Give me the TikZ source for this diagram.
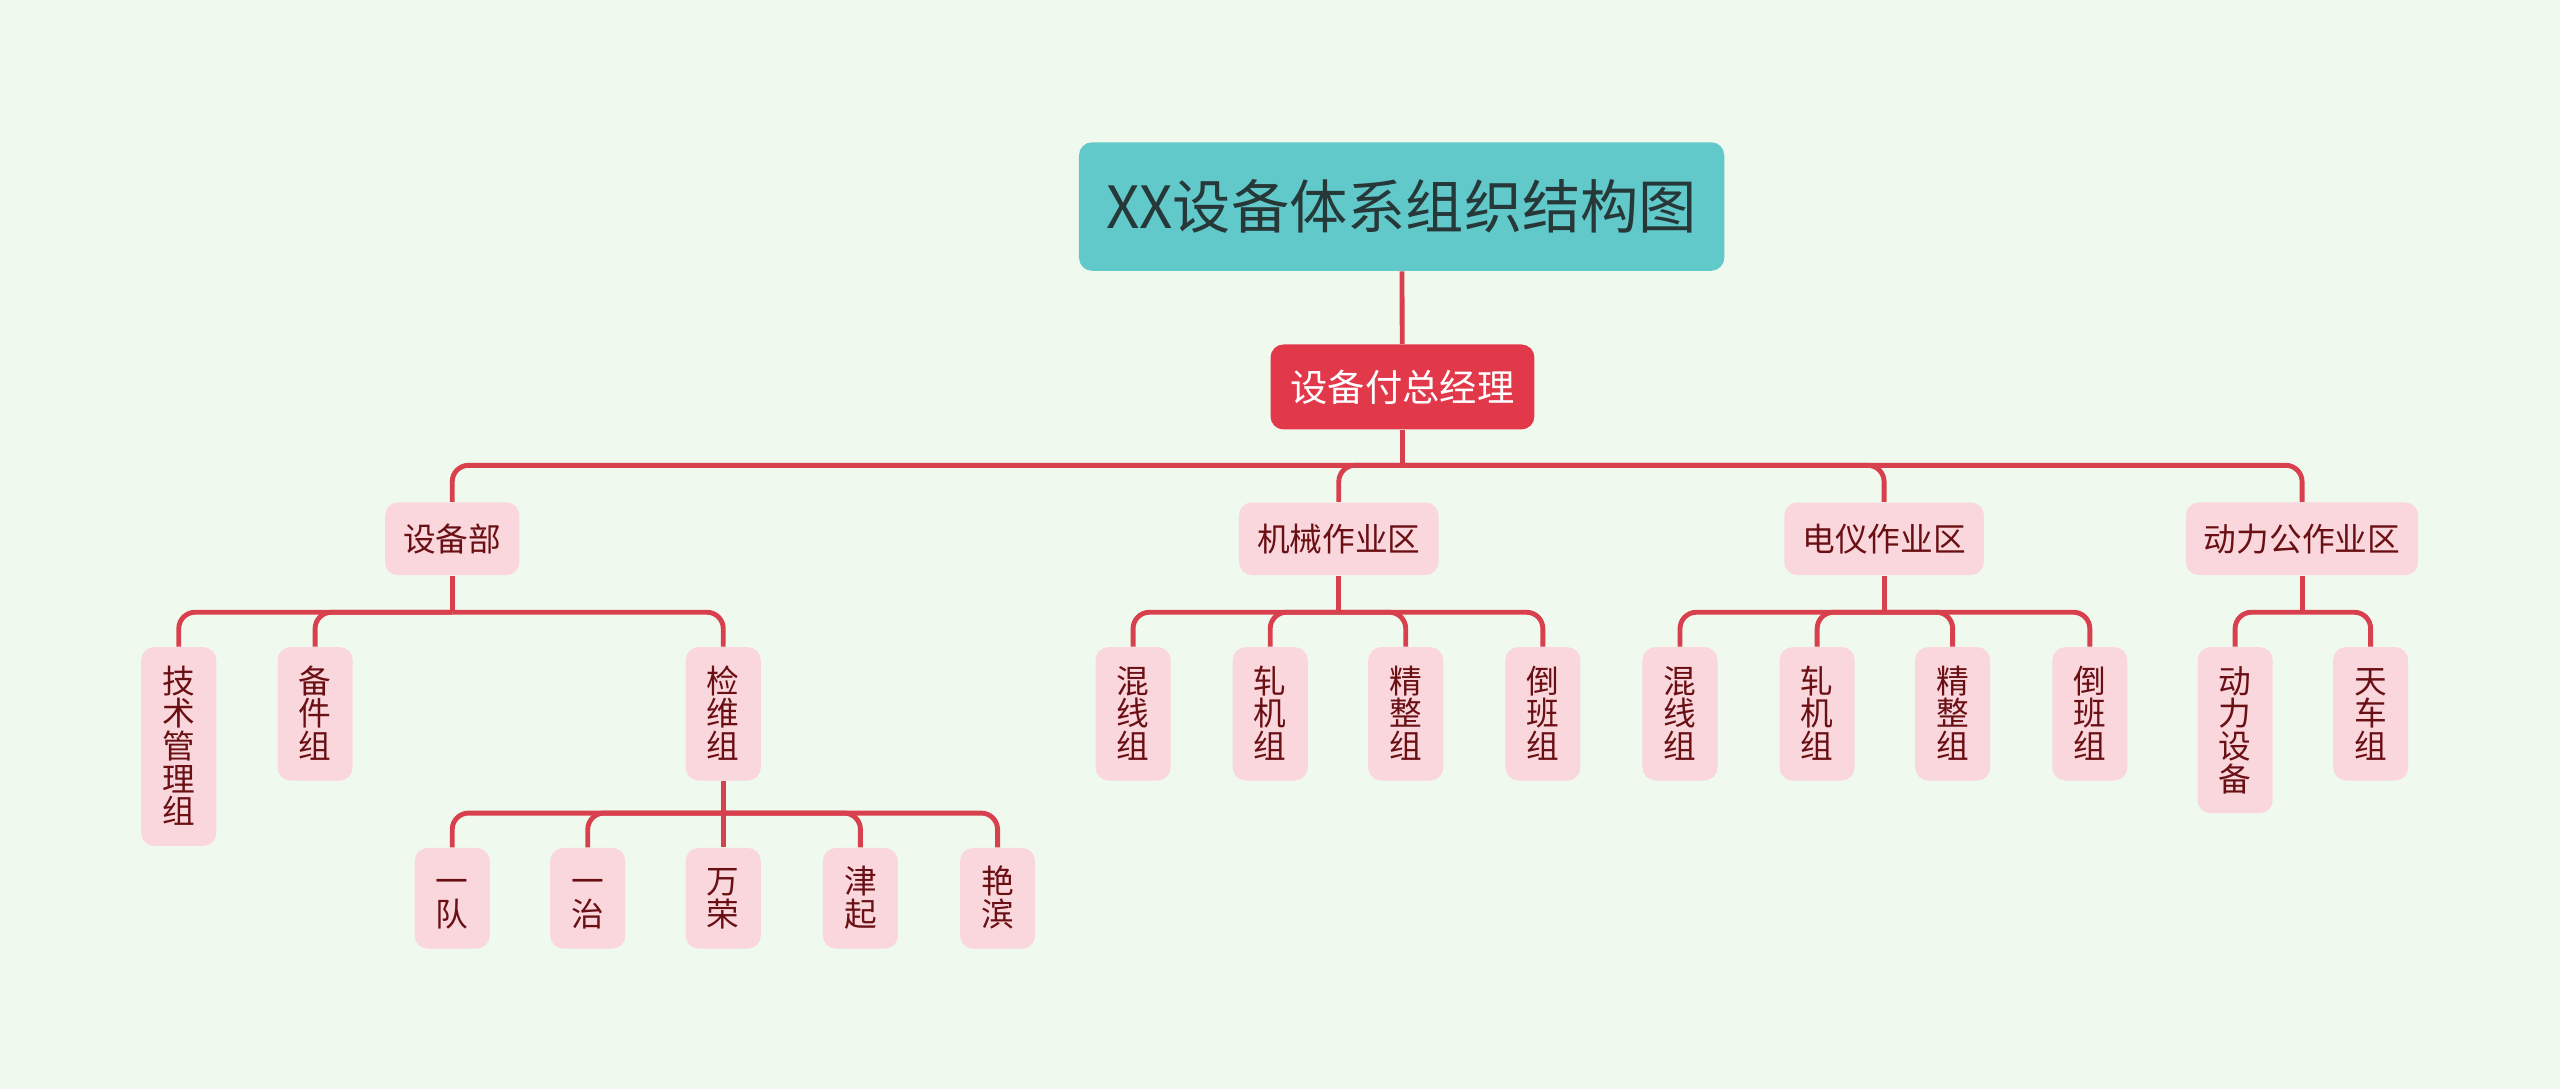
\documentclass[tikz,border=0pt]{standalone}
\usepackage{fontspec}
\setmainfont{Noto Sans CJK SC}
\definecolor{bgmint}{HTML}{F0F9EE}
\definecolor{titlecyan}{HTML}{62C9CB}
\definecolor{titleink}{HTML}{263838}
\definecolor{bossred}{HTML}{E2394A}
\definecolor{deptpink}{HTML}{FAD7DC}
\definecolor{deptink}{HTML}{6A1015}
\definecolor{linkred}{HTML}{D9404E}
\tikzset{
  box/.style={rounded corners=0.16cm, inner sep=0pt},
  title/.style={box, fill=titlecyan, text=titleink, font=\fontsize{20.3}{22}\selectfont, inner xsep=9.5pt, inner ysep=13pt},
  boss/.style={box, fill=bossred, text=white, font=\fontsize{13}{14}\selectfont, inner xsep=7pt, inner ysep=8.8pt},
  dept/.style={box, fill=deptpink, text=deptink, font=\fontsize{11.4}{11.4}\selectfont, inner xsep=6.3pt, inner ysep=7.4pt},
  team/.style={box, fill=deptpink, text=deptink, font=\fontsize{11.4}{11.4}\selectfont, align=center, text width=0.92cm, inner ysep=6pt, anchor=north,
    execute at begin node={\rule{0pt}{10pt}}, execute at end node={\rule[-1.7pt]{0pt}{0pt}}},
  link/.style={draw=linkred, line width=1.7pt, rounded corners=0.2cm},
}
\begin{document}
\begin{tikzpicture}[x=0.02cm, y=-0.02cm]
  \fill[bgmint] (0,0) rectangle (1568,667);
  % top
  \node[title] (title) at (858.5,126.5) {XX设备体系组织结构图};
  \node[boss] (boss) at (859,237) {设备付总经理};
  % departments
  \node[dept] (sbb) at (277,330) {设备部};
  \node[dept] (jx) at (820,330) {机械作业区};
  \node[dept] (dy) at (1154,330) {电仪作业区};
  \node[dept] (dl) at (1410,330) {动力公作业区};
  % groups
  \node[team] (jsg) at (109.5,396) {技\\术\\管\\理\\组};
  \node[team] (bjz) at (193,396) {备\\件\\组};
  \node[team] (jwz) at (443,396) {检\\维\\组};
  \node[team] (jx1) at (694,396) {混\\线\\组};
  \node[team] (jx2) at (778,396) {轧\\机\\组};
  \node[team] (jx3) at (861,396) {精\\整\\组};
  \node[team] (jx4) at (945,396) {倒\\班\\组};
  \node[team] (dy1) at (1029,396) {混\\线\\组};
  \node[team] (dy2) at (1113,396) {轧\\机\\组};
  \node[team] (dy3) at (1196,396) {精\\整\\组};
  \node[team] (dy4) at (1280,396) {倒\\班\\组};
  \node[team] (dl1) at (1369,396) {动\\力\\设\\备};
  \node[team] (dl2) at (1452,396) {天\\车\\组};
  % teams under 检维组
  \node[team] (yd) at (277,519) {一\\队};
  \node[team] (yz) at (360,519) {一\\治};
  \node[team] (wr) at (443,519) {万\\荣};
  \node[team] (jq) at (527,519) {津\\起};
  \node[team] (yb) at (611,519) {艳\\滨};
  % connectors
  \coordinate (b0) at (859,285);
  \coordinate (b1) at (277,375);
  \coordinate (b2) at (820,375);
  \coordinate (b3) at (1154,375);
  \coordinate (b4) at (1410,375);
  \coordinate (b5) at (443,498);
  \draw[link] (title) -- (boss);
  \draw[link] (boss) -- (b0);
  \foreach \c in {sbb,jx,dy,dl} \draw[link] (b0) -| (\c.north);
  \draw[link] (sbb) -- (b1);
  \foreach \c in {jsg,bjz,jwz} \draw[link] (b1) -| (\c.north);
  \draw[link] (jx) -- (b2);
  \foreach \c in {jx1,jx2,jx3,jx4} \draw[link] (b2) -| (\c.north);
  \draw[link] (dy) -- (b3);
  \foreach \c in {dy1,dy2,dy3,dy4} \draw[link] (b3) -| (\c.north);
  \draw[link] (dl) -- (b4);
  \foreach \c in {dl1,dl2} \draw[link] (b4) -| (\c.north);
  \draw[link] (jwz) -- (b5);
  \foreach \c in {yd,yz,wr,jq,yb} \draw[link] (b5) -| (\c.north);
\end{tikzpicture}
\end{document}
